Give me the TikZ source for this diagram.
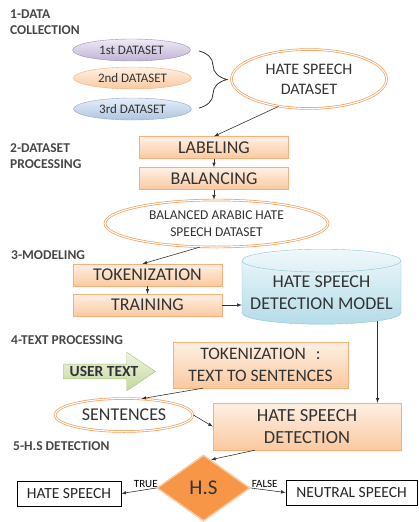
\documentclass[tikz,border=0pt]{standalone}
\usepackage{fontspec}
\setmainfont{Carlito}
\usetikzlibrary{shapes,arrows,decorations.pathreplacing}
\definecolor{peachtop}{HTML}{FEF0E4}
\definecolor{peachbot}{HTML}{FAC9A0}
\definecolor{peachline}{HTML}{F7B07A}
\definecolor{purptop}{HTML}{EEEAF4}
\definecolor{purpbot}{HTML}{BFB2D6}
\definecolor{purpline}{HTML}{A08FC2}
\definecolor{bluetop}{HTML}{E6EEF8}
\definecolor{bluebot}{HTML}{AFC5E2}
\definecolor{blueline}{HTML}{90ABD3}
\definecolor{cyltop}{HTML}{F0F8FB}
\definecolor{cylbot}{HTML}{B4DCE8}
\definecolor{cylline}{HTML}{8CC6D8}
\definecolor{greentop}{HTML}{EEF4E2}
\definecolor{greenbot}{HTML}{C4D79E}
\definecolor{greenline}{HTML}{A6C070}
\definecolor{dblline}{HTML}{F59C5A}
\definecolor{hsfill}{HTML}{F79646}
\definecolor{hsline}{HTML}{FBC9A0}
\tikzset{secttext/.style={anchor=north west,align=left,inner sep=0pt,text=black!72,font=\bfseries\fontsize{13.5}{16}\selectfont},
peachbox/.style={rectangle,draw=peachline,top color=peachtop,bottom color=peachbot,minimum width=149pt,minimum height=22pt,inner sep=0pt,align=center,text=black!80,font=\fontsize{18}{22}\selectfont},
dsell/.style={ellipse,inner sep=0pt,minimum width=118pt,minimum height=22pt,text=black!80,font=\fontsize{13}{15}\selectfont},
dblell/.style={ellipse,draw=dblline,double=white,double distance=1.1pt,line width=0.7pt,fill=white,inner sep=0pt,align=center,text=black!80},
whitebox/.style={rectangle,draw=black,line width=0.8pt,fill=white,inner sep=0pt,minimum height=25pt,text=black!85,font=\fontsize{15.5}{18}\selectfont},
arr/.style={->,>=latex,draw=black!80,line width=0.6pt}}
\begin{document}
\begin{tikzpicture}[x=1pt,y=-1pt]
\useasboundingbox (0,0) rectangle (418,522);
\node[secttext] (s1) at (10,10) {1-DATA\\COLLECTION};
\node[secttext] (s2) at (10,143) {2-DATASET\\PROCESSING};
\node[secttext] (s3) at (11,250) {3-MODELING};
\node[secttext] (s4) at (11,335) {4-TEXT PROCESSING};
\node[secttext] (s5) at (13,441) {5-H.S DETECTION};
\node[dsell,draw=purpline,top color=purptop,bottom color=purpbot] (ds1) at (131.5,50) {1st DATASET};
\node[dsell,draw=peachline,top color=peachtop,bottom color=peachbot] (ds2) at (132.5,78) {2nd DATASET};
\node[dsell,draw=blueline,top color=bluetop,bottom color=bluebot] (ds3) at (132.5,109) {3rd DATASET};
\draw[decorate,decoration={brace,amplitude=28pt},line width=0.8pt,black!80] (199,51) -- (199,108);
\node[dblell,minimum width=155pt,minimum height=59pt,font=\fontsize{16}{20}\selectfont] (hsd) at (309,79) {HATE SPEECH\\DATASET};
\node[peachbox] (lab) at (214,147.5) {LABELING};
\node[peachbox] (bal) at (214,178.5) {BALANCING};
\node[dblell,minimum width=223pt,minimum height=47pt,font=\fontsize{13.5}{17}\selectfont] (bds) at (216.5,223.5) {BALANCED ARABIC HATE\\SPEECH DATASET};
\node[peachbox] (tok) at (147.5,275) {TOKENIZATION};
\node[peachbox] (train) at (147.5,305) {TRAINING};
\node[cylinder,shape border rotate=90,aspect=0.16,draw=cylline,top color=cyltop,bottom color=cylbot,minimum width=159pt,minimum height=75pt,inner sep=0pt,align=center,text=black!80,font=\fontsize{18}{22}\selectfont] (model) at (321.5,292.5) {HATE SPEECH\\DETECTION MODEL};
\node[single arrow,single arrow head extend=12pt,single arrow tip angle=68,draw=greenline,top color=greentop,bottom color=greenbot,inner xsep=6pt,inner ysep=2pt,text=black!80,font=\bfseries\fontsize{15.5}{16}\selectfont] (usr) at (104,371.5) {USER TEXT};
\node[peachbox,minimum width=175pt,minimum height=46pt,font=\fontsize{17.5}{22}\selectfont] (tts) at (260.5,365) {TOKENIZATION\hspace{10pt}:\\TEXT TO SENTENCES};
\node[dblell,minimum width=138pt,minimum height=33pt,font=\fontsize{18}{22}\selectfont] (sent) at (124,415) {SENTENCES};
\node[peachbox,minimum width=188pt,minimum height=47pt,font=\fontsize{18.5}{22}\selectfont] (hsdet) at (307,426.5) {HATE SPEECH\\DETECTION};
\node[diamond,aspect=1.41,draw=hsline,fill=hsfill,line width=1.5pt,minimum width=93pt,minimum height=66pt,inner sep=0pt,text=black!80,font=\fontsize{21}{24}\selectfont] (hs) at (203.5,488) {H.S};
\node[whitebox,minimum width=104pt] (hate) at (69,493.5) {HATE SPEECH};
\node[whitebox,minimum width=131pt] (neut) at (351.5,492.5) {NEUTRAL SPEECH};
\draw[arr] (hsd.222) -- (lab.north);
\draw[arr] (lab.south) -- (bal.north);
\draw[arr] (bal.south) -- (bds.north -| bal.south);
\draw[arr] (bds.235) -- ([xshift=-5pt]tok.north);
\draw[arr] (tok.south) -- (train.north);
\draw[arr] (train.east) -- (train.east -| model.west);
\draw[arr] (model.-27) -- (model.-27 |- hsdet.north);
\draw[arr] ([xshift=30pt]tts.south west) -- (sent.43);
\draw[arr] (sent.east) -- (hsdet.west);
\draw[arr] ([xshift=42pt]hsdet.south west) -- (hs.75);
\draw[arr] (hs.west) -- node[pos=0.3,above,inner sep=2pt,font=\fontsize{11}{12}\selectfont] {TRUE} (hate.east);
\draw[arr] (hs.east) -- node[pos=0.4,above,inner sep=2pt,font=\fontsize{11}{12}\selectfont] {FALSE} (neut.west);
\end{tikzpicture}
\end{document}
